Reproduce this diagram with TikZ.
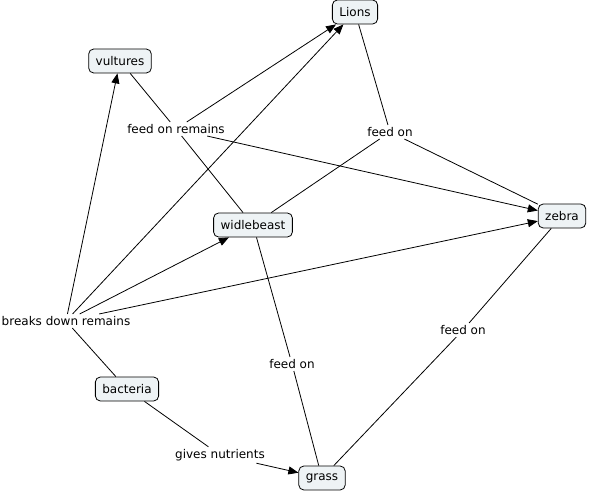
\documentclass[tikz,border=0pt]{standalone}
\usepackage{fontspec}
\setmainfont{DejaVu Sans}
\usetikzlibrary{arrows.meta}
\definecolor{conceptfill}{RGB}{238,243,245}

\begin{document}
\begin{tikzpicture}[x=1pt, y=-1pt, >={Triangle[length=10pt,width=8pt]},
  font=\fontsize{12}{14}\selectfont, line width=0.8pt,
  concept/.style={draw, rounded corners=5pt, fill=conceptfill,
                  minimum height=24pt, inner xsep=7pt},
  linkphrase/.style={inner sep=2pt, fill=white}]

\useasboundingbox (0,0) rectangle (590,495);

% ---- concepts ----
\node[concept] (lions)      at (355,12)  {Lions};
\node[concept] (vultures)   at (120,61)  {vultures};
\node[concept] (widlebeast) at (253,225) {widlebeast};
\node[concept] (zebra)      at (562,216) {zebra};
\node[concept] (bacteria)   at (127,389) {bacteria};
\node[concept] (grass)      at (322,478) {grass};

% ---- linking phrases ----
\node[linkphrase] (feedremains) at (176,129) {feed on remains};
\node[linkphrase] (feedlions)   at (390,132) {feed on};
\node[linkphrase] (breaks)      at (66,321)  {breaks down remains};
\node[linkphrase] (feedgrassW)  at (292,364) {feed on};
\node[linkphrase] (feedgrassZ)  at (463,330) {feed on};
\node[linkphrase] (gives)       at (220,455) {gives nutrients};

% ---- vultures / feed on remains ----
\draw (vultures) -- (feedremains);
\draw (feedremains) -- (widlebeast);
\draw[->] (feedremains) -- (lions);
\draw[->] (feedremains) -- (zebra);

% ---- Lions / feed on ----
\draw (lions) -- (feedlions);
\draw (feedlions) -- (widlebeast);
\draw (feedlions) -- (zebra);

% ---- bacteria / breaks down remains ----
\draw (bacteria) -- (breaks);
\draw[->] (breaks) -- (vultures);
\draw[->] (breaks) -- (lions);
\draw[->] (breaks) -- (widlebeast);
\draw[->] (breaks) -- (zebra);

% ---- grass ----
\draw (widlebeast) -- (feedgrassW);
\draw (feedgrassW) -- (grass);
\draw (zebra) -- (feedgrassZ);
\draw (feedgrassZ) -- (grass);
\draw (bacteria) -- (gives);
\draw[->] (gives) -- (grass);

\end{tikzpicture}
\end{document}
